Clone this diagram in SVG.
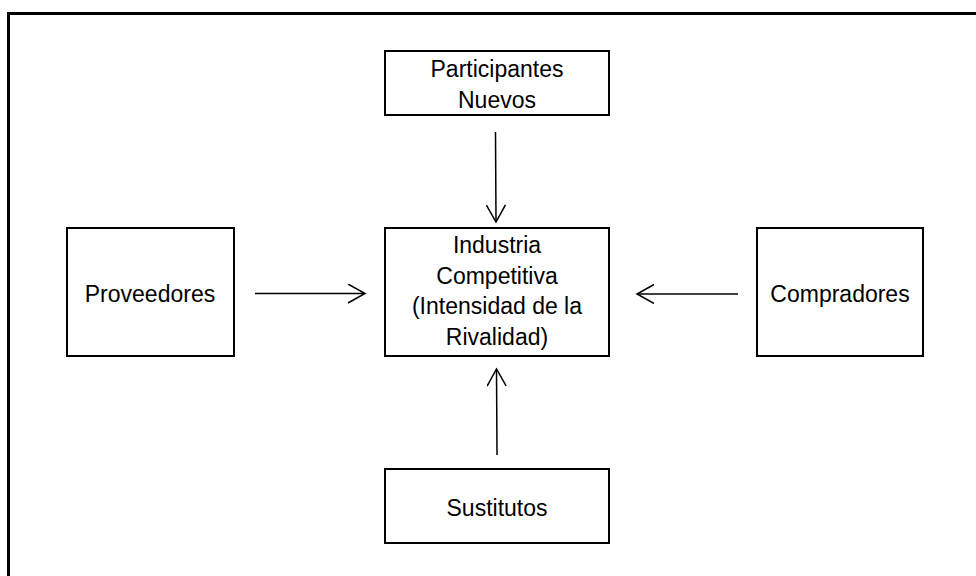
<svg xmlns="http://www.w3.org/2000/svg" width="976" height="576" viewBox="0 0 976 576">
<style>
.box{fill:#fff;stroke:#000;stroke-width:2}
.t{font-family:"Liberation Sans",Arial,sans-serif;font-size:23px;fill:#000;text-anchor:middle}
.c{stroke:#000;stroke-width:1.5;fill:none}
</style>
<defs>
<marker id="ah" markerUnits="userSpaceOnUse" markerWidth="30" markerHeight="30" refX="18" refY="10" orient="auto">
<path d="M1,0.5 L18,10 L1,19.5" fill="none" stroke="#000" stroke-width="1.5"/>
</marker>
</defs>
<rect width="976" height="576" fill="#fff"/>
<path d="M8.5,576 V13.5 H976" fill="none" stroke="#000" stroke-width="3"/>
<g id="participantes">
<rect class="box" x="385" y="51" width="224" height="64"/>
<text class="t" x="497" y="77">Participantes</text>
<text class="t" x="497" y="108">Nuevos</text>
</g>
<g id="industria">
<rect class="box" x="385" y="228" width="224" height="128"/>
<text class="t" x="497" y="253">Industria</text>
<text class="t" x="497" y="283.5">Competitiva</text>
<text class="t" x="497" y="314">(Intensidad de la</text>
<text class="t" x="497" y="344.5">Rivalidad)</text>
</g>
<g id="proveedores">
<rect class="box" x="67" y="228" width="167" height="128"/>
<text class="t" x="150" y="301.5">Proveedores</text>
</g>
<g id="compradores">
<rect class="box" x="757" y="228" width="166" height="128"/>
<text class="t" x="840" y="301.5">Compradores</text>
</g>
<g id="sustitutos">
<rect class="box" x="385" y="469" width="224" height="74"/>
<text class="t" x="497" y="516">Sustitutos</text>
</g>
<g id="connectors">
<line class="c" x1="495.5" y1="132" x2="496" y2="222" marker-end="url(#ah)"/>
<line class="c" x1="255" y1="293.5" x2="365" y2="293.5" marker-end="url(#ah)"/>
<line class="c" x1="738" y1="294" x2="637" y2="294" marker-end="url(#ah)"/>
<line class="c" x1="497" y1="455" x2="496.5" y2="369" marker-end="url(#ah)"/>
</g>
</svg>
